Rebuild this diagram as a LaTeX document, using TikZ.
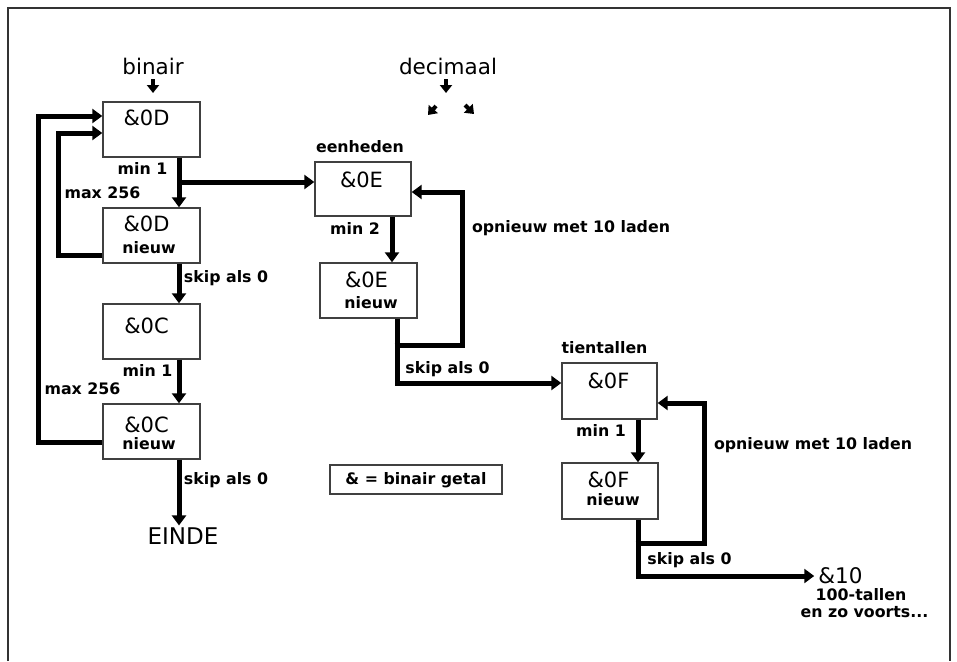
\documentclass[tikz,border=0pt]{standalone}
\usepackage{fontspec}
\setmainfont{DejaVu Sans}
\usetikzlibrary{arrows.meta,calc}
\tikzset{
  regbox/.style={draw=black!75,line width=1.4pt,fill=white,inner sep=0pt},
  big/.style={font=\fontsize{21}{22}\selectfont,inner sep=0pt,anchor=center},
  huge/.style={font=\fontsize{21.5}{23}\selectfont,inner sep=0pt,anchor=center},
  lab/.style={font=\fontsize{15.8}{17}\selectfont\bfseries,inner sep=0pt,anchor=center},
  conn/.style={line width=5pt,-{Triangle[width=14pt,length=10pt]}},
  connnt/.style={line width=5pt},
  smallarr/.style={line width=4pt,-{Triangle[width=12pt,length=8pt]}},
}
\begin{document}
\begin{tikzpicture}[x=1pt,y=-1pt]
\useasboundingbox (0,0) rectangle (957,661);
% frame
\draw[line width=2pt,black!80] (8,661) -- (8,8) -- (950,8) -- (950,661);

% boxes
\node[regbox,minimum width=97pt,minimum height=55pt] (d1) at (151.5,129.5) {};
\node[regbox,minimum width=97pt,minimum height=55pt] (d2) at (151.5,235.5) {};
\node[regbox,minimum width=97pt,minimum height=55pt] (c1) at (151.5,331.5) {};
\node[regbox,minimum width=97pt,minimum height=55pt] (c2) at (151.5,431.5) {};
\node[regbox,minimum width=96pt,minimum height=54pt] (e1) at (363,189) {};
\node[regbox,minimum width=97pt,minimum height=55pt] (e2) at (368.5,290.5) {};
\node[regbox,minimum width=95pt,minimum height=56pt] (f1) at (609.5,391) {};
\node[regbox,minimum width=96pt,minimum height=56pt] (f2) at (610,491) {};
\node[regbox,minimum width=172pt,minimum height=29pt] (leg) at (416,479.5) {};
\node[lab] (legt) at (416,480) {\& = binair getal};

% box texts
\node[big] (d1t) at (146.5,118) {\&0D};
\node[big] (d2t) at (146.5,224) {\&0D};
\node[lab] (d2n) at (149,248) {nieuw};
\node[big] (c1t) at (146.5,326) {\&0C};
\node[big] (c2t) at (146.5,425) {\&0C};
\node[lab] (c2n) at (149,444) {nieuw};
\node[big] (e1t) at (361.5,180) {\&0E};
\node[big] (e2t) at (366.5,280) {\&0E};
\node[lab] (e2n) at (371,303) {nieuw};
\node[big] (f1t) at (608.5,381) {\&0F};
\node[big] (f2t) at (608.5,480) {\&0F};
\node[lab] (f2n) at (613,500) {nieuw};

% headings
\node[huge] (bin) at (153,66) {binair};
\node[huge] (dec) at (448,66) {decimaal};
\node[huge,font=\fontsize{23}{24}\selectfont] (einde) at (183,536) {EINDE};
\node[huge] (n10) at (840.5,576) {\&10};
\node[lab] (t100) at (861,595) {100-tallen};
\node[lab] (etc) at (864.5,612) {en zo voorts...};

% labels
\node[lab] (l1) at (142.5,168) {min 1};
\node[lab] (l2) at (102.5,193) {max 256};
\node[lab] (l3) at (226,278) {skip als 0};
\node[lab] (l4) at (147.5,370) {min 1};
\node[lab] (l5) at (82.5,389) {max 256};
\node[lab] (l6) at (226,480) {skip als 0};
\node[lab] (l7) at (360,147) {eenheden};
\node[lab] (l8) at (355,228) {min 2};
\node[lab] (l9) at (571,228) {opnieuw met 10 laden};
\node[lab] (l10) at (447.5,369) {skip als 0};
\node[lab] (l11) at (604.5,348) {tientallen};
\node[lab] (l12) at (601,430) {min 1};
\node[lab] (l13) at (813,445) {opnieuw met 10 laden};
\node[lab] (l14) at (689.5,560) {skip als 0};

% column coordinates
\coordinate (cA) at (179,0);
\coordinate (cE) at (392,0);
\coordinate (cE2) at (397,0);
\coordinate (cF) at (638,0);

% small arrows
\draw[smallarr] (153,79) -- (153,93);
\draw[smallarr] (446,79) -- (446,93);
\draw[smallarr] (436,106) -- (428,115);
\draw[smallarr] (465,105) -- (474,114);

% left column
\draw[conn] (d1.south -| cA) -- (d2.north -| cA);
\coordinate (br1) at (179,182);
\draw[conn] (br1) -- (br1 -| e1.west);
\draw[conn] ([yshift=-20pt]d2.west) -- (58,255.5) -- (58,133) -- ([yshift=-3.5pt]d1.west);
\draw[conn] ([yshift=-10.5pt]c2.west) -- (38,442) -- (38,116) -- ([yshift=13.5pt]d1.west);
\draw[conn] (d2.south -| cA) -- (c1.north -| cA);
\draw[conn] (c1.south -| cA) -- (c2.north -| cA);
\draw[conn,shorten >=2pt] (c2.south -| cA) -- (einde.north -| cA);

% eenheden column
\draw[conn] (e1.south -| cE) -- (e2.north -| cE);
\coordinate (ej) at (397,345);
\draw[connnt] (e2.south -| cE2) -- (ej);
\draw[conn] ([xshift=-2.5pt]ej) -- (462,345) -- (462,192) -- ([yshift=-3pt]e1.east);
\draw[conn] ([yshift=-2.5pt]ej) -- (397,383) -- ([yshift=8pt]f1.west);

% tientallen column
\draw[conn] (f1.south -| cF) -- (f2.north -| cF);
\coordinate (fj) at (638,543);
\draw[connnt] (f2.south -| cF) -- (fj);
\draw[conn] ([xshift=-2.5pt]fj) -- (704,543) -- (704,403) -- ([yshift=-12pt]f1.east);
\draw[conn,shorten >=4pt] ([yshift=-2.5pt]fj) -- (638,576) -- (n10.west |- 0,576);
\end{tikzpicture}
\end{document}
